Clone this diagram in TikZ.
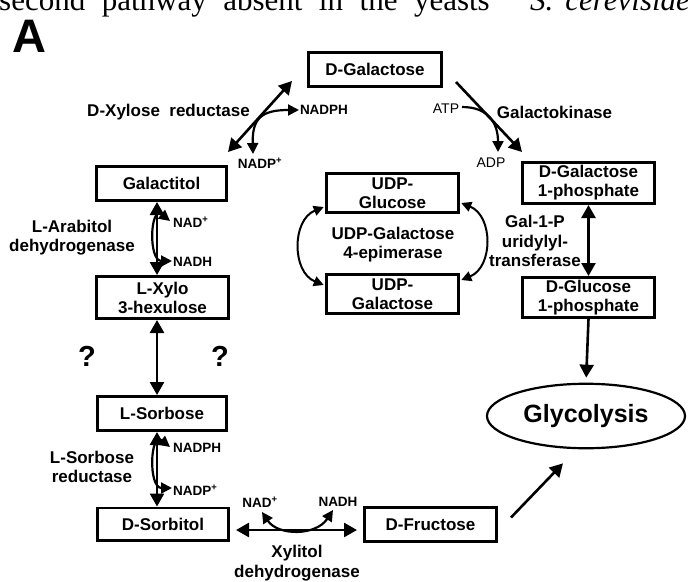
\documentclass[tikz,border=0pt]{standalone}
\usepackage{fontspec}
\setmainfont{Liberation Sans}
\newfontfamily\timesfont{Liberation Serif}
\usetikzlibrary{arrows.meta,shapes.geometric,calc}
\begin{document}
\begin{tikzpicture}[x=1pt,y=-1pt,
  box/.style={draw, line width=2.6pt, inner sep=0pt, align=center, font=\fontsize{17}{19}\selectfont\bfseries},
  lab/.style={inner sep=0pt, align=center, font=\fontsize{17}{19.5}\selectfont\bfseries},
  cof/.style={inner sep=0pt, font=\fontsize{13.5}{14}\selectfont\bfseries},
  cofr/.style={inner sep=0pt, font=\fontsize{14}{14}\selectfont},
  qm/.style={inner sep=0pt, font=\fontsize{29}{29}\selectfont\bfseries},
  main/.style={line width=2.6pt, -{Triangle[length=13pt,width=14pt]}},
  dbl/.style={line width=2.6pt, {Triangle[length=13pt,width=14pt]}-{Triangle[length=13pt,width=14pt]}},
  cofone/.style={line width=2.2pt, -{Triangle[length=11pt,width=11pt]}},
  coftwo/.style={line width=2.2pt, {Triangle[length=11pt,width=11pt]}-{Triangle[length=11pt,width=11pt]}},
  epi/.style={line width=2pt, {Triangle[length=10pt,width=10pt]}-{Triangle[length=10pt,width=10pt]}}
]
\useasboundingbox (0,0) rectangle (688,581);
\clip (0,0) rectangle (688,581);
\fill[white] (0,0) rectangle (688,581);

% cut-off line of running text at the top
\node[anchor=base west, inner sep=0pt, font=\fontsize{31}{31}\selectfont\timesfont] (toptext) at (-1,10)
  {second\hspace*{16.5pt}pathway\hspace*{16.5pt}absent\hspace*{16.5pt}in\hspace*{16.5pt}the\hspace*{16.5pt}yeasts};
\node[anchor=base west, inner sep=0pt, font=\fontsize{31}{31}\selectfont\timesfont\itshape] (species) at (530,10)
  {S.\hspace*{12pt}cerevisiae};

% panel letter
\node[anchor=base west, inner sep=0pt, font=\fontsize{47}{47}\selectfont\bfseries] (panel) at (12,52) {A};

% metabolite boxes
\node[box, minimum width=133.4pt, minimum height=34.4pt] (gal) at (375,69.5) {D-Galactose};
\node[box, minimum width=130.4pt, minimum height=34.4pt] (galtol) at (161.5,183.5) {Galactitol};
\node[box, minimum width=132.4pt, minimum height=42.4pt] (lxylo) at (162.5,297.5) {L-Xylo\\3-hexulose};
\node[box, minimum width=129.4pt, minimum height=34.4pt] (lsorb) at (162,413.5) {L-Sorbose};
\node[box, minimum width=131.4pt, minimum height=32.4pt] (dsorb) at (163,524) {D-Sorbitol};
\node[box, minimum width=132.4pt, minimum height=34.4pt] (dfru) at (430.5,524.5) {D-Fructose};
\node[box, minimum width=132.4pt, minimum height=39.4pt] (udpglc) at (392.5,193) {UDP-\\Glucose};
\node[box, minimum width=132.4pt, minimum height=39.4pt] (udpgal) at (392.5,294) {UDP-\\Galactose};
\node[box, minimum width=132.4pt, minimum height=41.4pt] (galp) at (588.5,183) {D-Galactose\\1-phosphate};
\node[box, minimum width=132.4pt, minimum height=40.4pt] (glcp) at (588.5,297.5) {D-Glucose\\1-phosphate};
\node[draw, ellipse, line width=2.2pt, inner sep=0pt, minimum width=198pt, minimum height=64.5pt,
      font=\fontsize{25}{25}\selectfont\bfseries] (glyc) at (586,416) {Glycolysis};

% enzyme labels
\node[lab] (xr) at (168.5,112) {D-Xylose\ \ reductase};
\node[lab] (gk) at (554.5,112) {Galactokinase};
\node[lab] (ard) at (72,237.5) {L-Arabitol\\dehydrogenase};
\node[lab] (srd) at (92,467) {L-Sorbose\\reductase};
\node[lab] (epim) at (393,244.5) {UDP-Galactose\\4-epimerase};
\node[lab] (gput) at (535,241) {Gal-1-P\\uridylyl-\\transferase};
\node[lab] (xdh) at (297,563) {Xylitol\\dehydrogenase};

% question marks
\node[qm] (q1) at (87,356) {?};
\node[qm] (q2) at (220,356) {?};

% cofactors
\node[cof] (nadph1) at (324,110) {NADPH};
\node[cof] (nadp1) at (260,163) {NADP\textsuperscript{+}};
\node[cofr] (atp) at (446,109) {ATP};
\node[cofr] (adp) at (491,163) {ADP};
\node[cof, anchor=west] (nad2) at (173,222) {NAD\textsuperscript{+}};
\node[cof, anchor=west] (nadh2) at (173,262) {NADH};
\node[cof, anchor=west] (nadph3) at (173,448) {NADPH};
\node[cof, anchor=west] (nadp3) at (173,490) {NADP\textsuperscript{+}};
\node[cof] (nad4) at (260,502) {NAD\textsuperscript{+}};
\node[cof] (nadh4) at (338,502) {NADH};

% main reaction arrows
\coordinate (ax) at (157,0);
\coordinate (hy) at (0,530);
\draw[dbl] ([shift={(-15,-7)}]gal.south west) -- ([shift={(0,-13)}]galtol.north east);
\draw[main] ([shift={(13,-6)}]gal.south east) -- ([shift={(1,-9)}]galp.north west);
\draw[dbl] (ax |- galtol.south) -- (ax |- lxylo.north);
\draw[dbl] (ax |- lxylo.south) -- (ax |- lsorb.north);
\draw[dbl] (ax |- lsorb.south) -- (ax |- dsorb.north);
\draw[dbl, shorten <=6pt, shorten >=6pt] (dsorb.east |- hy) -- (dfru.west |- hy);
\draw[dbl] (galp.south) -- (glcp.north);
\draw[main, shorten >=5pt] (glcp.south) -- (glyc.north);
\draw[main] ([shift={(13,-7)}]dfru.east) -- ([shift={(-23,14)}]glyc.south);

% epimerase arcs
\draw[epi] ([shift={(-1.3,14)}]udpglc.west) .. controls +(-32,13) and +(-32,-13) .. ([shift={(-1.3,-9)}]udpgal.west);
\draw[epi] ([shift={(1.3,10)}]udpglc.east) .. controls +(32,13) and +(32,-13) .. ([shift={(1.3,-14)}]udpgal.east);

% cofactor arrows
\coordinate (xa) at (253,154);
\coordinate (xb) at (299,110);
\draw[coftwo] (xa) .. controls (252,118) and (262,110) .. (xb);
\coordinate (ka) at (462,107);
\coordinate (kb) at (498,152);
\draw[cofone] (ka) .. controls (490,107) and (498,125) .. (kb);
\coordinate (aa) at (170,221);
\coordinate (ab) at (172,261);
\draw[coftwo] (aa) .. controls (150,205) and (148,261) .. (ab);
\coordinate (sa) at (170,447);
\coordinate (sb) at (172,488);
\draw[coftwo] (sa) .. controls (150,431) and (148,488) .. (sb);
\coordinate (da) at (262,512);
\coordinate (db) at (333,510);
\draw[coftwo] (da) .. controls (278,536) and (316,536) .. (db);
\end{tikzpicture}
\end{document}
